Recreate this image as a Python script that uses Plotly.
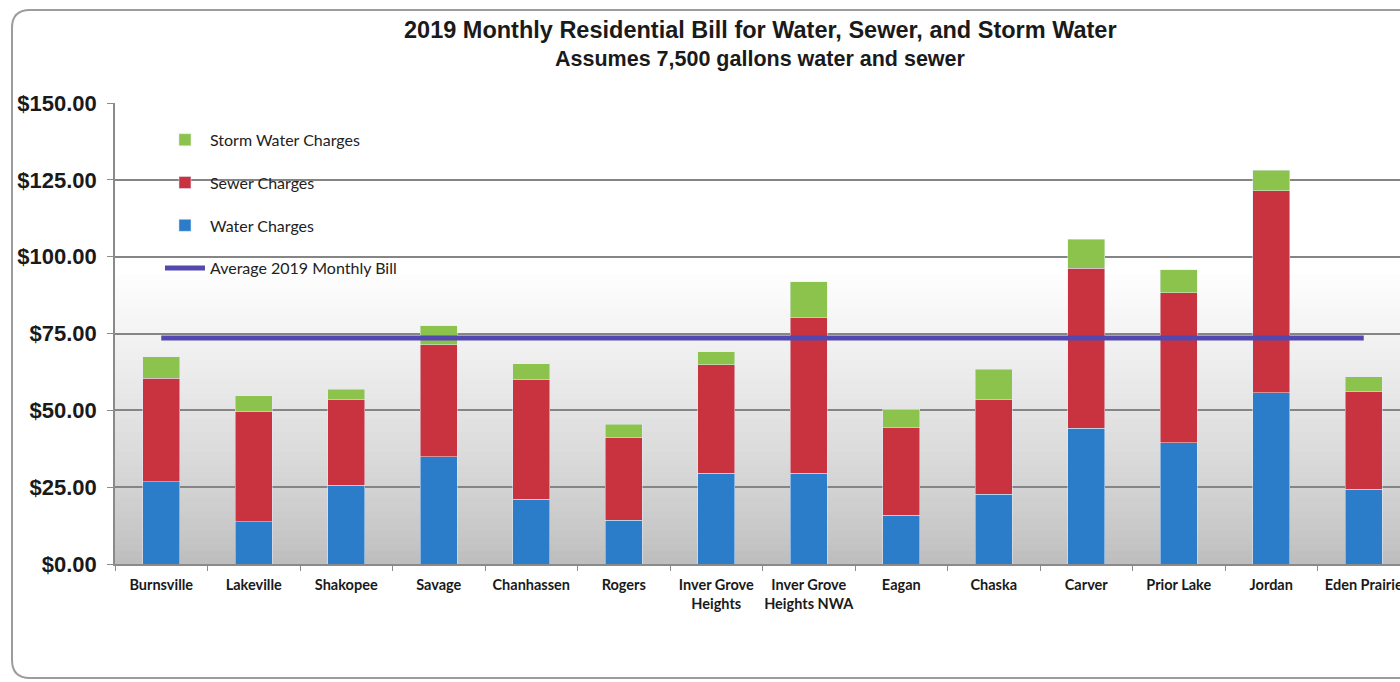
import plotly.graph_objects as go

cities = ["Burnsville", "Lakeville", "Shakopee", "Savage", "Chanhassen", "Rogers",
          "Inver Grove<br>Heights", "Inver Grove<br>Heights NWA", "Eagan", "Chaska",
          "Carver", "Prior Lake", "Jordan", "Eden Prairie"]
water = [26.8, 13.8, 25.7, 34.9, 21.0, 14.3, 29.5, 29.5, 15.9, 22.7, 44.2, 39.5, 55.7, 24.3]
sewer = [33.6, 35.8, 27.7, 36.4, 39.1, 26.9, 35.3, 50.7, 28.6, 30.9, 52.0, 48.8, 65.7, 31.8]
storm = [7.1, 5.1, 3.5, 6.2, 5.0, 4.3, 4.3, 11.7, 5.8, 9.7, 9.5, 7.4, 6.8, 4.9]
average = [73.5] * len(cities)
y_ticks = [0, 25, 50, 75, 100, 125, 150]
y_tick_text = ["$0.00", "$25.00", "$50.00", "$75.00", "$100.00", "$125.00", "$150.00"]

W, H = 1400, 682
L, T, B = 115, 103, 118
PW = W - L
PH = H - T - B

fig = go.Figure()
fig.add_bar(x=cities, y=water, name="Water Charges", marker_color="#2b7cc9",
            legendrank=3, legendgroup="w")
fig.add_bar(x=cities, y=sewer, name="Sewer Charges", marker_color="#c8333f",
            legendrank=2, legendgroup="s")
fig.add_bar(x=cities, y=storm, name="Storm Water Charges", marker_color="#8cc34c",
            legendrank=1, legendgroup="g")
fig.add_scatter(x=cities, y=average, mode="lines", name="Average 2019 Monthly Bill",
                line=dict(color="#5248b0", width=5), legendrank=4, legendgroup="a")

# gradient plot background
shapes = []
N = 70
for i in range(N):
    f0 = i / N
    f1 = (i + 1) / N
    fm = (f0 + f1) / 2
    t = min(1.0, fm / 0.64) ** 0.8
    c = int(round(188 + (255 - 188) * t))
    shapes.append(dict(type="rect", xref="x domain", yref="y domain",
                       x0=0, x1=1, y0=f0, y1=f1 + 0.002, layer="below",
                       line=dict(width=0), fillcolor=f"rgb({c},{c},{c})"))

# outer rounded border
def px2x(px):
    return (px - L) / PW

def py2y(py):
    return (H - B - py) / PH

x0, x1 = px2x(12), px2x(1425)
yt, yb = py2y(10), py2y(678)
rx, ry = 18 / PW, 18 / PH
path = (f"M {x0+rx},{yt} L {x1},{yt} L {x1},{yb} L {x0+rx},{yb} "
        f"Q {x0},{yb} {x0},{yb+ry} L {x0},{yt-ry} Q {x0},{yt} {x0+rx},{yt} Z")
shapes.append(dict(type="path", xref="paper", yref="paper", path=path,
                   line=dict(color="#9c9c9c", width=2), layer="above"))

fig.update_layout(
    width=W, height=H,
    margin=dict(l=L, r=0, t=T, b=B, autoexpand=False),
    paper_bgcolor="white", plot_bgcolor="white",
    barmode="stack", bargap=0.6,
    shapes=shapes,
    showlegend=True,
    legend=dict(x=0.035, y=0.957, xanchor="left", yanchor="top",
                traceorder="grouped", tracegroupgap=19,
                bgcolor="rgba(0,0,0,0)", itemwidth=40,
                font=dict(family="Lato, Open Sans, sans-serif", size=16, color="#222")),
    annotations=[
        dict(text="<b>2019 Monthly Residential Bill for Water, Sewer, and Storm Water</b>",
             xref="paper", yref="paper", x=px2x(760), y=py2y(30),
             xanchor="center", yanchor="middle", showarrow=False,
             font=dict(family="Liberation Sans, Arial, sans-serif", size=23.5, color="#1a1a1a")),
        dict(text="<b>Assumes 7,500 gallons water and sewer</b>",
             xref="paper", yref="paper", x=px2x(760), y=py2y(59),
             xanchor="center", yanchor="middle", showarrow=False,
             font=dict(family="Liberation Sans, Arial, sans-serif", size=21.5, color="#1a1a1a")),
    ],
)

fig.update_xaxes(
    type="category", range=[-0.5, (W - L) / 92.5 - 0.5],
    showline=True, linecolor="#8a8a8a", linewidth=1.5,
    ticks="outside", tickson="boundaries", ticklen=5, tickcolor="#8a8a8a",
    ticklabeloverflow="allow", showgrid=False, ticklabelstandoff=7, tickangle=0,
    tickfont=dict(family="Lato, Open Sans, sans-serif", size=14.5, color="#1a1a1a", weight="bold"),
)
fig.update_yaxes(
    range=[0, 150], tickmode="array", tickvals=y_ticks, ticktext=y_tick_text,
    showline=True, linecolor="#8a8a8a", linewidth=1.5,
    ticks="outside", ticklen=6, tickcolor="#8a8a8a",
    showgrid=True, gridcolor="#858585", gridwidth=1.5,
    zeroline=False, ticklabelstandoff=6,
    tickfont=dict(family="Liberation Sans, Arial, sans-serif", size=22, color="#1a1a1a", weight="bold"),
)

fig.write_html("out.html", config={"displayModeBar": False},
               post_script="document.body.style.margin='0';document.body.style.overflow='hidden';")
